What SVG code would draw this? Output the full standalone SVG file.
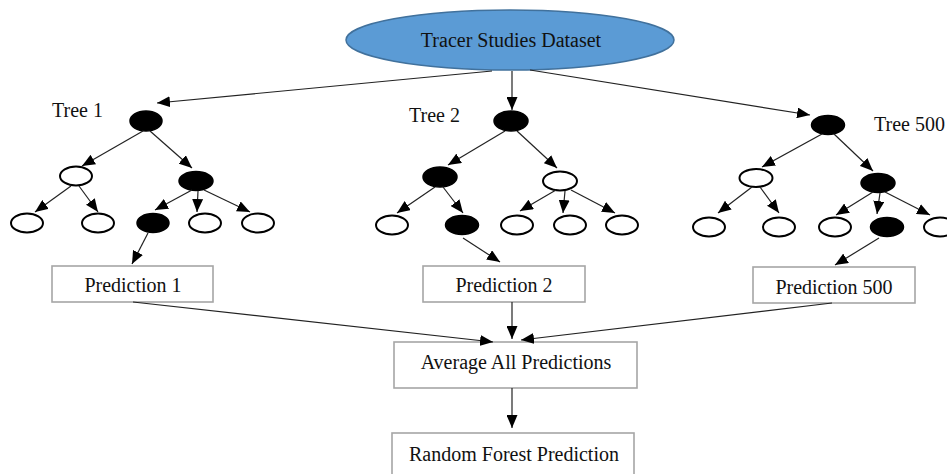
<svg xmlns="http://www.w3.org/2000/svg" width="947" height="474" viewBox="0 0 947 474">
<style>
text{font-family:"Liberation Serif","Times New Roman",serif;font-size:20px;fill:#111}
.c{text-anchor:middle}
.f{fill:#000;stroke:#000;stroke-width:1.5}
.o{fill:#fff;stroke:#000;stroke-width:2}
.b{fill:#fff;stroke:#a6a6a6;stroke-width:1.6}
.e line{stroke:#222;stroke-width:1.2;marker-end:url(#ah)}
</style>
<defs>
<marker id="ah" markerUnits="userSpaceOnUse" markerWidth="13" markerHeight="11" viewBox="0 0 13 11" refX="13" refY="5.5" orient="auto">
<path d="M0,0 L13,5.5 L0,11 z" fill="#000"/>
</marker>
</defs>
<rect width="947" height="474" fill="#fff"/>
<g id="dataset">
<ellipse cx="510" cy="40" rx="164" ry="30" fill="#5b9bd5" stroke="#41719c" stroke-width="1.5"/>
<text class="c" x="511" y="47">Tracer Studies Dataset</text>
</g>
<g id="tree1">
<text x="52" y="117">Tree 1</text>
<ellipse class="f" cx="146" cy="121" rx="16" ry="10"/>
<ellipse class="o" cx="76" cy="176" rx="16" ry="9.5"/>
<ellipse class="f" cx="196" cy="181" rx="17" ry="9.5"/>
<ellipse class="o" cx="27" cy="223" rx="16" ry="9.5"/>
<ellipse class="o" cx="98" cy="223" rx="16" ry="9.5"/>
<ellipse class="f" cx="153" cy="223" rx="16" ry="9.5"/>
<ellipse class="o" cx="205" cy="223" rx="16" ry="9.5"/>
<ellipse class="o" cx="258" cy="223" rx="16" ry="9.5"/>
</g>
<g id="tree2">
<text x="409" y="122">Tree 2</text>
<ellipse class="f" cx="511" cy="121" rx="17" ry="10"/>
<ellipse class="f" cx="440" cy="177" rx="17" ry="10"/>
<ellipse class="o" cx="560" cy="181" rx="17" ry="9.5"/>
<ellipse class="o" cx="392" cy="225" rx="16" ry="9.5"/>
<ellipse class="f" cx="462" cy="225" rx="16.5" ry="9.5"/>
<ellipse class="o" cx="517" cy="225" rx="16" ry="9.5"/>
<ellipse class="o" cx="570" cy="225" rx="16" ry="9.5"/>
<ellipse class="o" cx="622" cy="225" rx="16" ry="9.5"/>
</g>
<g id="tree500">
<text x="874" y="131">Tree 500</text>
<ellipse class="f" cx="828" cy="125" rx="16.5" ry="9.5"/>
<ellipse class="o" cx="756" cy="178" rx="16.5" ry="9"/>
<ellipse class="f" cx="878" cy="183" rx="17" ry="9.5"/>
<ellipse class="o" cx="709" cy="227" rx="16" ry="9.5"/>
<ellipse class="o" cx="779" cy="227" rx="16" ry="9.5"/>
<ellipse class="o" cx="835" cy="227" rx="16" ry="9.5"/>
<ellipse class="f" cx="887" cy="227" rx="16.5" ry="9.5"/>
<ellipse class="o" cx="940" cy="227" rx="16" ry="9.5"/>
</g>
<g id="pred1">
<rect class="b" x="52" y="266" width="161" height="36"/>
<text class="c" x="133" y="292">Prediction 1</text>
</g>
<g id="pred2">
<rect class="b" x="423" y="266" width="162" height="36"/>
<text class="c" x="504" y="292">Prediction 2</text>
</g>
<g id="pred500">
<rect class="b" x="753" y="267" width="162" height="36"/>
<text class="c" x="834" y="294">Prediction 500</text>
</g>
<g id="average">
<rect class="b" x="394" y="342" width="243" height="46"/>
<text class="c" x="516" y="369">Average All Predictions</text>
</g>
<g id="rf">
<rect class="b" x="392" y="433" width="242" height="44"/>
<text class="c" x="514" y="461">Random Forest Prediction</text>
</g>
<g id="connectors" class="e">
<line x1="492" y1="71" x2="157" y2="103"/>
<line x1="512" y1="71" x2="512" y2="110"/>
<line x1="530" y1="70" x2="810" y2="115"/>
<line x1="143" y1="131" x2="82" y2="166"/>
<line x1="150" y1="131" x2="192" y2="168"/>
<line x1="71" y1="186" x2="35" y2="212"/>
<line x1="79" y1="186" x2="98" y2="212"/>
<line x1="192" y1="190" x2="155" y2="210"/>
<line x1="198" y1="191" x2="197" y2="212"/>
<line x1="204" y1="190" x2="250" y2="212"/>
<line x1="148" y1="233" x2="132" y2="264"/>
<line x1="505" y1="131" x2="448" y2="165"/>
<line x1="517" y1="131" x2="557" y2="168"/>
<line x1="435" y1="187" x2="397" y2="213"/>
<line x1="443" y1="187" x2="463" y2="213"/>
<line x1="556" y1="190" x2="520" y2="211"/>
<line x1="565" y1="191" x2="563" y2="213"/>
<line x1="571" y1="190" x2="615" y2="213"/>
<line x1="463" y1="238" x2="500" y2="262"/>
<line x1="822" y1="134" x2="762" y2="167"/>
<line x1="834" y1="134" x2="873" y2="171"/>
<line x1="752" y1="187" x2="718" y2="213"/>
<line x1="760" y1="187" x2="779" y2="213"/>
<line x1="873" y1="192" x2="836" y2="215"/>
<line x1="880" y1="193" x2="877" y2="214"/>
<line x1="885" y1="192" x2="930" y2="215"/>
<line x1="879" y1="238" x2="835" y2="265"/>
<line x1="133" y1="302" x2="493" y2="342"/>
<line x1="512" y1="302" x2="512" y2="339"/>
<line x1="832" y1="303" x2="521" y2="340"/>
<line x1="512" y1="388" x2="512" y2="428"/>
</g>
</svg>
